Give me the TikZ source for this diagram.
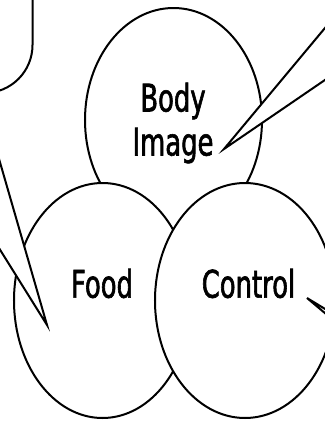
\documentclass[tikz,border=0pt]{standalone}
\usepackage{fontspec}
\usetikzlibrary{shapes.geometric}
\newfontfamily\labelFont{DejaVu Sans}[FakeStretch=0.68,FakeBold=1.6]

\begin{document}
\begin{tikzpicture}[x=1bp,y=-1bp]
    % Define line width
    \def\lineWidth{2bp}

    \definecolor{borderColour}{HTML}{000000}
    \definecolor{fillColour}{HTML}{FFFFFF}

    \tikzset{
        bubble/.style={ellipse, draw=borderColour, fill=fillColour, line width=\lineWidth, inner sep=0pt},
        bubbleText/.style={font=\labelFont\fontsize{38bp}{44bp}\selectfont, align=center, inner sep=0pt},
        callout/.style={draw=borderColour, fill=fillColour, line width=\lineWidth}
    }

    % Canvas
    \useasboundingbox (0,0) rectangle (325,421);
    \clip (0,0) rectangle (325,421);

    % Draw ellipses
    \node[bubble, minimum width=177bp, minimum height=224bp] (body) at (173.5,120) {};
    \node[bubble, minimum width=177bp, minimum height=235bp] (food) at (102.5,300.5) {};
    \node[bubble, minimum width=180bp, minimum height=235bp] (control) at (245,300.5) {};

    % Labels
    \node[bubbleText] (bodyText) at (173,123) {Body\\Image};
    \node[bubbleText] (foodText) at (102,283.5) {Food};
    \node[bubbleText] (controlText) at (248.5,283.5) {Control};

    % Draw callouts
    \draw[callout, rounded corners=48bp] (-80,-150) -- (32.5,-150) -- (32.5,93) -- (-80,93) -- cycle;
    \draw[callout] (-18,100) -- (47,325) -- (-31,200) -- cycle;
    \draw[callout] (350,-2) -- (224,149) -- (360,56) -- cycle;
    \draw[callout] (345,321) -- (307,298) -- (345,330) -- cycle;

\end{tikzpicture}
\end{document}
